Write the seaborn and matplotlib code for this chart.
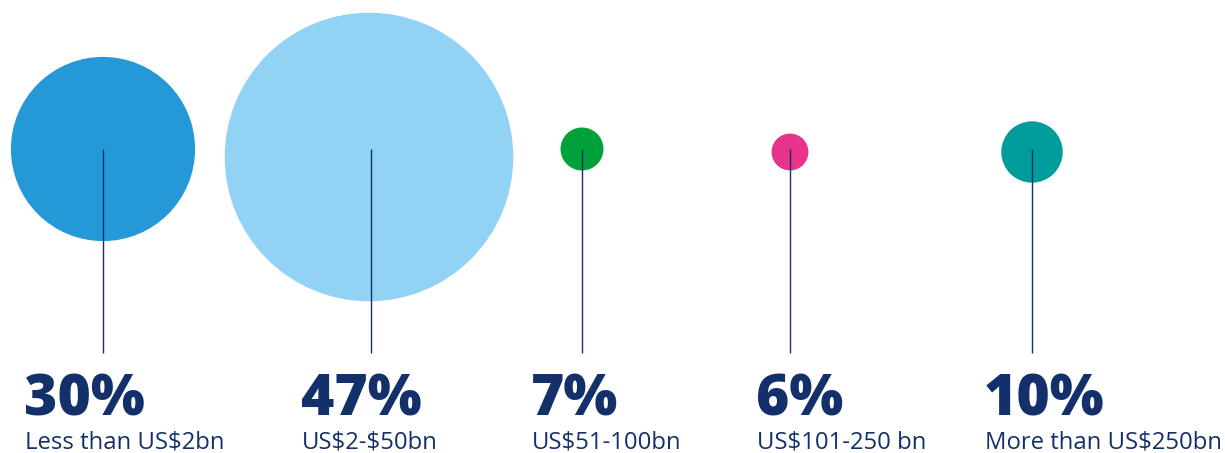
import matplotlib
matplotlib.use("Agg")
import matplotlib.pyplot as plt
import seaborn as sns
import pandas as pd

# data
categories = ["Less than US$2bn", "US$2-$50bn", "US$51-100bn", "US$101-250 bn", "More than US$250bn"]
values = [30, 47, 7, 6, 10]
pct_labels = ["30%", "47%", "7%", "6%", "10%"]
colors = ["#2599D8", "#92D2F5", "#00A03A", "#E8338A", "#009B9B"]

# layout (pixel units)
W, H, DPI = 1225, 453, 100
cx = [103, 369, 582, 790, 1032]
cy = [149, 157, 149, 152, 152]
line_x = [103, 371, 582, 790, 1032]
line_top = 149
text_x = [25, 302, 532, 757, 985]
line_bottom = 353
px_per_unit = 3.07
navy = "#13306B"

sns.set_theme(style="white")
plt.rcParams["font.family"] = ["Open Sans", "DejaVu Sans"]
plt.rcParams["text.parse_math"] = False

fig = plt.figure(figsize=(W / DPI, H / DPI), dpi=DPI)
ax = fig.add_axes([0, 0, 1, 1])

df = pd.DataFrame({"cat": categories, "value": values, "x": cx, "y": cy})
sizes = {c: (2 * v * px_per_unit * 72 / DPI) ** 2 for c, v in zip(categories, values)}
sns.scatterplot(data=df, x="x", y="y", hue="cat", size="cat", sizes=sizes,
                palette=dict(zip(categories, colors)), linewidth=0, legend=False,
                ax=ax, zorder=1)
ax.set_xlim(0, W)
ax.set_ylim(H, 0)
ax.set_axis_off()

ax.vlines(line_x, line_top, line_bottom, color=navy, lw=1.0, zorder=2)

for x, p, c in zip(text_x, pct_labels, categories):
    ax.text(x - 1, 415, p, fontsize=41, fontweight=800, family=["Open Sans", "DejaVu Sans"],
            color=navy, va="baseline", ha="left")
    ax.text(x, 448, c, fontsize=17.2, color=navy, va="baseline", ha="left")

fig.savefig("out.png", dpi=DPI)
